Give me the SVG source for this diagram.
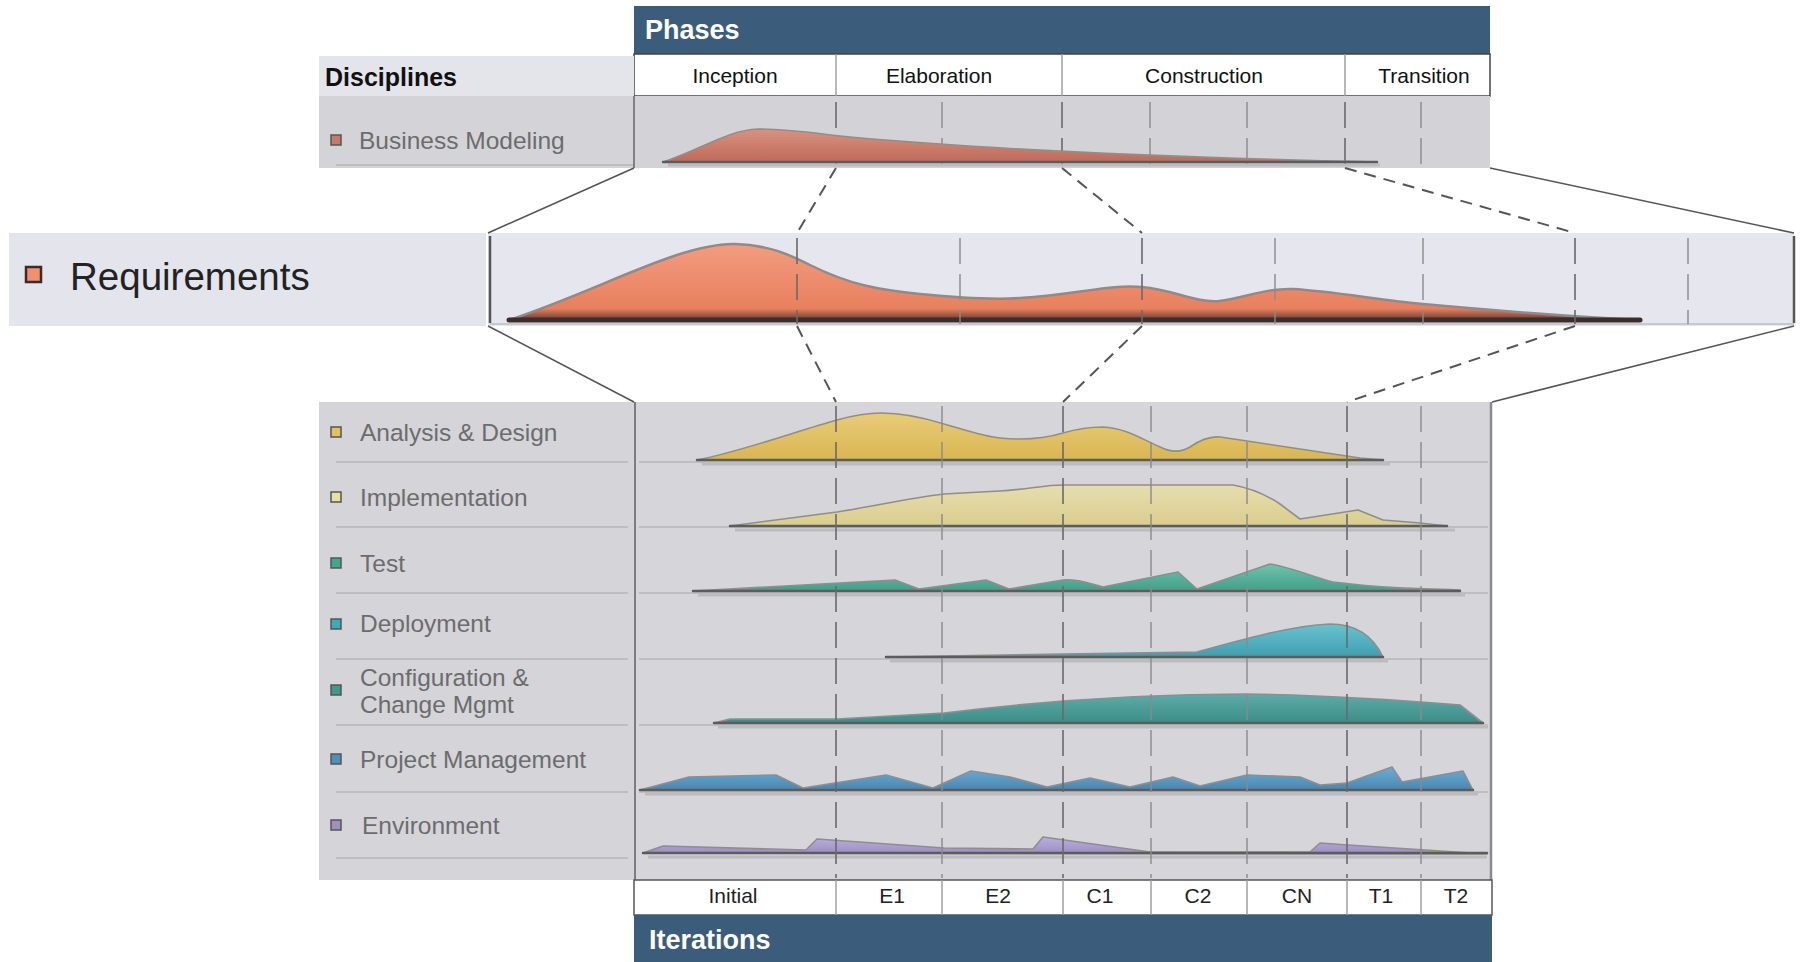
<svg xmlns="http://www.w3.org/2000/svg" width="1800" height="962" viewBox="0 0 1800 962">
<defs>
<style>
.hdr{fill:#3b5c7b}
.hdrt{font-family:"Liberation Sans",Arial,sans-serif;font-weight:bold;font-size:27px;fill:#ffffff}
.ph{font-family:"Liberation Sans",Arial,sans-serif;font-size:21px;fill:#111111;text-anchor:middle}
.it{font-family:"Liberation Sans",Arial,sans-serif;font-size:21px;fill:#222222;text-anchor:middle}
.lbl{font-family:"Liberation Sans",Arial,sans-serif;font-size:24.5px;fill:#6c6c6c}
.icon{stroke:#555555;stroke-width:1.5}
.sep{stroke:#bdbdc3;stroke-width:2}
.shape{stroke:#8e8e8e;stroke-width:1.6;stroke-linejoin:round}
.base{stroke:#5c5c5c;stroke-width:2.5;stroke-linecap:round}
.shadow{stroke:#bbbbc0;stroke-width:3}
.dash{stroke:#6a6a6a;stroke-width:1.6;stroke-dasharray:26 10;fill:none}
.dashl{stroke:#8a8a8a;stroke-width:1.4;stroke-dasharray:26 10;fill:none}
.div{stroke:#9a9a9a;stroke-width:1.4}
.con{stroke:#555555;stroke-width:1.6;fill:none}
.cond{stroke:#555555;stroke-width:2;stroke-dasharray:12 8;fill:none}
</style>
<linearGradient id="gBm" x1="0" y1="0" x2="0" y2="1"><stop offset="0" stop-color="#d99282"/><stop offset="1" stop-color="#c06a58"/></linearGradient>
<linearGradient id="gReq" x1="0" y1="0" x2="0" y2="1"><stop offset="0" stop-color="#f39c80"/><stop offset="0.85" stop-color="#e8805e"/><stop offset="1" stop-color="#6a3a30"/></linearGradient>
<linearGradient id="gAd" x1="0" y1="0" x2="0" y2="1"><stop offset="0" stop-color="#e8cc78"/><stop offset="1" stop-color="#d9b652"/></linearGradient>
<linearGradient id="gIm" x1="0" y1="0" x2="0" y2="1"><stop offset="0" stop-color="#e6deb0"/><stop offset="1" stop-color="#dacd8c"/></linearGradient>
<linearGradient id="gTe" x1="0" y1="0" x2="0" y2="1"><stop offset="0" stop-color="#70c4ac"/><stop offset="1" stop-color="#3f9f88"/></linearGradient>
<linearGradient id="gDe" x1="0" y1="0" x2="0" y2="1"><stop offset="0" stop-color="#6ac2ce"/><stop offset="1" stop-color="#3e9fb0"/></linearGradient>
<linearGradient id="gCf" x1="0" y1="0" x2="0" y2="1"><stop offset="0" stop-color="#5eaca6"/><stop offset="1" stop-color="#3c8c88"/></linearGradient>
<linearGradient id="gPm" x1="0" y1="0" x2="0" y2="1"><stop offset="0" stop-color="#6eaed4"/><stop offset="1" stop-color="#4886b0"/></linearGradient>
<linearGradient id="gEn" x1="0" y1="0" x2="0" y2="1"><stop offset="0" stop-color="#bcb0dc"/><stop offset="1" stop-color="#9a8cc4"/></linearGradient>
</defs>
<rect width="1800" height="962" fill="#ffffff"/>

<g id="phases-header">
<rect class="hdr" x="634" y="6" width="856" height="48"/>
<text class="hdrt" x="645" y="39">Phases</text>
</g>

<g id="phase-row">
<rect x="634" y="54" width="856" height="42" fill="#ffffff" stroke="#444444" stroke-width="1.5"/>
<line class="div" x1="836" y1="54" x2="836" y2="96"/>
<line class="div" x1="1062" y1="54" x2="1062" y2="96"/>
<line class="div" x1="1345" y1="54" x2="1345" y2="96"/>
<text class="ph" x="735" y="83">Inception</text>
<text class="ph" x="939" y="83">Elaboration</text>
<text class="ph" x="1204" y="83">Construction</text>
<text class="ph" x="1424" y="83">Transition</text>
</g>

<g id="disciplines-header">
<rect x="319" y="56" width="315" height="40" fill="#e3e5ea"/>
<text x="325" y="86" font-family="Liberation Sans, Arial, sans-serif" font-weight="bold" font-size="25" fill="#111111">Disciplines</text>
</g>

<g id="business-modeling">
<rect x="319" y="96" width="315" height="72" fill="#d4d4d8"/>
<rect x="634" y="96" width="856" height="72" fill="#d3d3d7"/>
<line class="sep" x1="336" y1="165" x2="634" y2="165"/>
<rect class="icon" x="331" y="135" width="10" height="10" fill="#c87a6a"/>
<text class="lbl" x="359" y="149">Business Modeling</text>
<line class="dash" x1="836" y1="102" x2="836" y2="168"/>
<line class="dashl" x1="942" y1="102" x2="942" y2="168"/>
<line class="dash" x1="1062" y1="102" x2="1062" y2="168"/>
<line class="dashl" x1="1150" y1="102" x2="1150" y2="168"/>
<line class="dashl" x1="1247" y1="102" x2="1247" y2="168"/>
<line class="dash" x1="1345" y1="102" x2="1345" y2="168"/>
<line class="dashl" x1="1421" y1="102" x2="1421" y2="168"/>
<line class="shadow" x1="668" y1="165" x2="1380" y2="165"/>
<path class="shape" fill="url(#gBm)" d="M663 162 C700 150 728 130 758 129 C790 129 820 134 850 137 C950 146 1100 156 1377 162 Z"/>
<line class="base" x1="663" y1="162" x2="1377" y2="162"/>
<line x1="634" y1="96" x2="634" y2="168" stroke="#666666" stroke-width="1.5"/>
</g>

<g id="requirements">
<rect x="9" y="233" width="477" height="93" fill="#e3e4ec"/>
<rect x="488" y="233" width="1306" height="93" fill="#e6e6ee"/>
<rect x="26" y="267" width="15" height="15" fill="#f09070" stroke="#3a2a28" stroke-width="2.5"/>
<text x="70" y="290" font-family="Liberation Sans, Arial, sans-serif" font-size="38.5" fill="#222222">Requirements</text>
<line x1="490" y1="236" x2="490" y2="323" stroke="#555555" stroke-width="2.5"/>
<line x1="1794" y1="236" x2="1794" y2="323" stroke="#555555" stroke-width="2.5"/>
<line x1="490" y1="324" x2="1794" y2="324" stroke="#c8c8d0" stroke-width="2"/>
<path fill="url(#gReq)" stroke="#8c8c8c" stroke-width="2.5" stroke-linejoin="round" d="M509 320 C600 290 680 243 735 244 C770 245 790 255 810 265 C850 285 880 290 920 294 C960 298 990 300 1020 298 C1080 294 1110 284 1142 287 C1175 290 1195 303 1219 301 C1245 298 1265 288 1293 289 C1330 291 1380 300 1423 304 C1500 311 1560 316 1640 320 Z"/>
<line x1="509" y1="320" x2="1640" y2="320" stroke="#3a2e2c" stroke-width="5" stroke-linecap="round"/>
<line class="dash" x1="797" y1="238" x2="797" y2="324" stroke="#333333" stroke-width="2.2"/>
<line class="dashl" x1="960" y1="238" x2="960" y2="324" stroke-width="1.8"/>
<line class="dash" x1="1142" y1="238" x2="1142" y2="324" stroke="#333333" stroke-width="2.2"/>
<line class="dashl" x1="1275" y1="238" x2="1275" y2="324" stroke-width="1.8"/>
<line class="dashl" x1="1423" y1="238" x2="1423" y2="324" stroke-width="1.8"/>
<line class="dash" x1="1575" y1="238" x2="1575" y2="324" stroke="#333333" stroke-width="2.2"/>
<line class="dashl" x1="1688" y1="238" x2="1688" y2="324" stroke-width="1.8"/>
</g>

<g id="lower-panel">
<rect x="319" y="402" width="315" height="478" fill="#d4d4d9"/>
<rect x="634" y="402" width="858" height="478" fill="#d5d5da"/>
<line class="sep" x1="336" y1="462" x2="628" y2="462"/>
<line class="sep" x1="336" y1="527" x2="628" y2="527"/>
<line class="sep" x1="336" y1="593" x2="628" y2="593"/>
<line class="sep" x1="336" y1="659" x2="628" y2="659"/>
<line class="sep" x1="336" y1="725" x2="628" y2="725"/>
<line class="sep" x1="336" y1="792" x2="628" y2="792"/>
<line class="sep" x1="336" y1="858" x2="628" y2="858"/>
<line class="sep" x1="639" y1="462" x2="1488" y2="462"/>
<line class="sep" x1="639" y1="527" x2="1488" y2="527"/>
<line class="sep" x1="639" y1="593" x2="1488" y2="593"/>
<line class="sep" x1="639" y1="659" x2="1488" y2="659"/>
<line class="sep" x1="639" y1="725" x2="1488" y2="725"/>
<line class="sep" x1="639" y1="792" x2="1488" y2="792"/>
<line x1="635" y1="402" x2="635" y2="880" stroke="#666666" stroke-width="1.6"/>
<line x1="1491" y1="402" x2="1491" y2="880" stroke="#8a8a8e" stroke-width="2.5"/>
</g>

<g id="analysis-design">
<rect class="icon" x="331" y="427" width="10" height="10" fill="#e2c260"/>
<text class="lbl" x="360" y="441">Analysis &amp; Design</text>
<line class="shadow" x1="702" y1="464" x2="1390" y2="464"/>
<path class="shape" fill="url(#gAd)" d="M697 460 C740 452 800 430 837 420 C855 415 870 413 881 413 C905 413 925 418 944 424 C965 430 985 437 1000 438 C1020 440 1040 440 1063 433 C1080 428 1090 427 1103 427 C1125 428 1140 438 1160 447 C1170 452 1180 453 1190 447 C1200 440 1210 436 1220 437 L1247 441 L1360 458 L1383 460 Z"/>
<line class="base" x1="697" y1="460" x2="1383" y2="460"/>
</g>

<g id="implementation">
<rect class="icon" x="331" y="492" width="10" height="10" fill="#e8e0a0"/>
<text class="lbl" x="360" y="506">Implementation</text>
<line class="shadow" x1="735" y1="530" x2="1455" y2="530"/>
<path class="shape" fill="url(#gIm)" d="M730 526 L837 512 C880 505 910 498 944 494 L1000 491 C1030 489 1045 485 1063 485 L1233 485 C1250 488 1265 494 1280 504 L1300 519 L1358 510 L1383 520 L1420 523 L1447 526 Z"/>
<line class="base" x1="730" y1="526" x2="1447" y2="526"/>
</g>

<g id="test">
<rect class="icon" x="331" y="558" width="10" height="10" fill="#40a890"/>
<text class="lbl" x="360" y="572">Test</text>
<line class="shadow" x1="698" y1="595" x2="1465" y2="595"/>
<path class="shape" fill="url(#gTe)" d="M693 591 L895 580 L919 589 L986 580 L1009 589 L1063 580 C1080 579 1090 584 1103 587 L1178 572 L1197 589 L1270 564 C1290 567 1310 576 1333 582 C1380 588 1420 589 1460 590 Z"/>
<line class="base" x1="693" y1="591" x2="1460" y2="591"/>
</g>

<g id="deployment">
<rect class="icon" x="331" y="619" width="10" height="10" fill="#40a8b8"/>
<text class="lbl" x="360" y="632">Deployment</text>
<line class="shadow" x1="890" y1="661" x2="1388" y2="661"/>
<path class="shape" fill="url(#gDe)" d="M886 657 L1063 654 L1197 652 C1240 640 1290 626 1330 624 C1360 624 1375 640 1383 657 Z"/>
<line class="base" x1="886" y1="657" x2="1383" y2="657"/>
</g>

<g id="configuration">
<rect class="icon" x="331" y="685" width="10" height="10" fill="#409890"/>
<text class="lbl" x="360" y="686">Configuration &amp;</text>
<text class="lbl" x="360" y="713">Change Mgmt</text>
<line class="shadow" x1="718" y1="727" x2="1488" y2="727"/>
<path class="shape" fill="url(#gCf)" d="M714 723 L730 719 L837 719 L944 713 C1050 700 1150 694 1247 694 C1320 695 1400 700 1460 705 L1483 723 Z"/>
<line class="base" x1="714" y1="723" x2="1483" y2="723"/>
</g>

<g id="project-management">
<rect class="icon" x="331" y="754" width="10" height="10" fill="#5090b8"/>
<text class="lbl" x="360" y="768">Project Management</text>
<line class="shadow" x1="645" y1="794" x2="1478" y2="794"/>
<path class="shape" fill="url(#gPm)" d="M640 790 L689 777 L776 775 L803 788 L886 775 L933 788 L971 771 L1010 777 L1047 787 L1090 778 L1130 787 L1173 777 L1200 786 L1247 775 L1300 777 L1320 785 L1347 783 L1392 767 L1402 782 L1463 771 L1473 790 Z"/>
<line class="base" x1="640" y1="790" x2="1473" y2="790"/>
</g>

<g id="environment">
<rect class="icon" x="331" y="820" width="10" height="10" fill="#a090c0"/>
<text class="lbl" x="362" y="834">Environment</text>
<line class="shadow" x1="648" y1="857" x2="1487" y2="857"/>
<path class="shape" fill="url(#gEn)" d="M643 853 L663 846 L806 850 L817 839 L944 848 L1033 849 L1043 837 L1150 852 L1310 852 L1320 843 L1348 845 L1487 854 Z"/>
<line class="base" x1="643" y1="853" x2="1487" y2="853"/>
</g>

<g id="iteration-lines">
<line class="dash" x1="836" y1="406" x2="836" y2="878"/>
<line class="dashl" x1="942" y1="406" x2="942" y2="878"/>
<line class="dash" x1="1063" y1="406" x2="1063" y2="878"/>
<line class="dashl" x1="1151" y1="406" x2="1151" y2="878"/>
<line class="dashl" x1="1247" y1="406" x2="1247" y2="878"/>
<line class="dash" x1="1347" y1="406" x2="1347" y2="878"/>
<line class="dashl" x1="1421" y1="406" x2="1421" y2="878"/>
</g>

<g id="iteration-row">
<rect x="634" y="880" width="858" height="35" fill="#ffffff" stroke="#555555" stroke-width="1.5"/>
<line class="div" x1="836" y1="880" x2="836" y2="915"/>
<line class="div" x1="942" y1="880" x2="942" y2="915"/>
<line class="div" x1="1063" y1="880" x2="1063" y2="915"/>
<line class="div" x1="1151" y1="880" x2="1151" y2="915"/>
<line class="div" x1="1247" y1="880" x2="1247" y2="915"/>
<line class="div" x1="1347" y1="880" x2="1347" y2="915"/>
<line class="div" x1="1421" y1="880" x2="1421" y2="915"/>
<text class="it" x="733" y="903">Initial</text>
<text class="it" x="892" y="903">E1</text>
<text class="it" x="998" y="903">E2</text>
<text class="it" x="1100" y="903">C1</text>
<text class="it" x="1198" y="903">C2</text>
<text class="it" x="1297" y="903">CN</text>
<text class="it" x="1381" y="903">T1</text>
<text class="it" x="1456" y="903">T2</text>
</g>

<g id="iterations-header">
<rect class="hdr" x="634" y="915" width="858" height="47"/>
<text class="hdrt" x="649" y="949">Iterations</text>
</g>

<g id="connectors">
<line class="con" x1="634" y1="168" x2="488" y2="233"/>
<line class="cond" x1="836" y1="168" x2="797" y2="233"/>
<line class="cond" x1="1062" y1="168" x2="1142" y2="233"/>
<line class="cond" x1="1345" y1="168" x2="1575" y2="233"/>
<line class="con" x1="1490" y1="168" x2="1794" y2="233"/>
<line class="con" x1="488" y1="326" x2="634" y2="402"/>
<line class="cond" x1="797" y1="326" x2="836" y2="402"/>
<line class="cond" x1="1142" y1="326" x2="1063" y2="402"/>
<line class="cond" x1="1575" y1="326" x2="1347" y2="402"/>
<line class="con" x1="1794" y1="326" x2="1492" y2="402"/>
</g>
</svg>
